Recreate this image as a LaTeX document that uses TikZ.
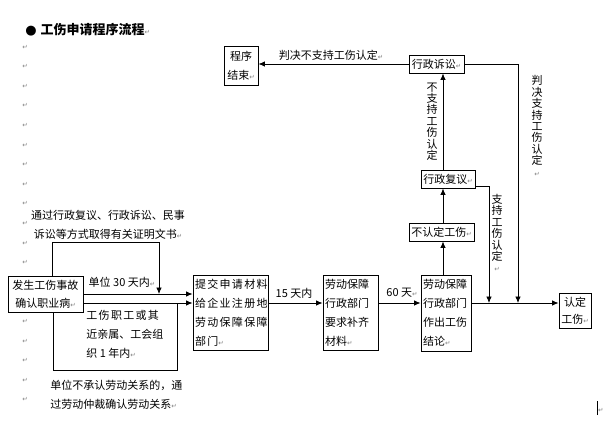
\documentclass[tikz,border=0pt]{standalone}
\usepackage{fontspec}
\newfontfamily\cjk{Noto Sans CJK SC}
\newfontfamily\cjkwide[LetterSpace=12]{Noto Sans CJK SC}
\newfontfamily\markfont{DejaVu Sans}
\usetikzlibrary{arrows.meta,calc}
\tikzset{
    auto,
    box/.style = {
        draw,
        shape=rectangle,
        inner sep=2pt,
        align=center,
        line width=0.9pt
    },
    tallbox/.style = {
        box,
        align=left,
        minimum height=75pt
    },
    vtext/.style = {
        align=center,
        inner sep=0pt,
        font=\cjk\fontsize{11}{11.4}\selectfont
    },
    plain/.style = {
        inner sep=1pt
    },
    >={Latex[length=6.5pt,width=5.5pt]},
}
\newcommand{\pmk}{{\markfont\fontsize{6.5}{6.5}\selectfont\textcolor{gray}{↵}}}

\begin{document}
\begin{tikzpicture}[x=1pt, y=-1pt, line width=0.8pt, font=\cjk\fontsize{11}{19}\selectfont]
            \useasboundingbox (0,0) rectangle (606,437);

            % title and the paragraph marks down the left side
            \node[plain, anchor=west] (title) at (24,30) {{\markfont\fontsize{13}{13}\selectfont ●}\hspace{4pt}{\bfseries\fontsize{13}{13}\selectfont 工伤申请程序流程}\pmk};
            \foreach \k in {0,...,11,14,15,16,17,18}
                \node[plain] (ret\k) at (25,{47+19.6*\k}) {\pmk};

            % boxes
            \node[box, minimum width=34pt, minimum height=39pt] (finish) at (241,65.5) {程序\\结束\pmk};
            \node[box, minimum width=55pt, minimum height=18pt] (suit) at (436.5,64) {行政诉讼\pmk};
            \node[box, minimum width=54pt, minimum height=18pt] (review) at (448,179) {行政复议\pmk};
            \node[box, minimum width=65pt, minimum height=18pt] (refuse) at (441.5,232) {不认定工伤\pmk};
            \node[tallbox, text width=46pt, minimum height=76pt] (verdict) at (446,313) {劳动保障\\行政部门\\作出工伤\\结论\pmk};
            \node[box, minimum width=32pt, minimum height=35pt, font=\cjk\fontsize{11}{17}\selectfont] (accept) at (575,310.5) {认定\\工伤\pmk};
            \node[tallbox, text width=71pt, font=\cjkwide\fontsize{11}{19}\selectfont] (submit) at (230.5,312.5) {提交申请材料\\给企业注册地\\劳动保障保障\\部门\pmk};
            \node[tallbox, text width=51pt] (supply) at (350.5,312.5) {劳动保障\\行政部门\\要求补齐\\材料\pmk};
            \node[box, minimum width=75pt, minimum height=36pt, font=\cjk\fontsize{11}{18}\selectfont] (accident) at (45.5,294) {发生工伤事故\\确认职业病\pmk};

            % texts
            \node[plain, align=center] (proof) at (108,224.5) {通过行政复议、行政诉讼、民事\\诉讼等方式取得有关证明文书\pmk};
            \node[plain] (within30) at (122,282) {单位 30 天内\pmk};
            \node[plain, align=left, anchor=west] (family) at (85,334) {{\cjkwide 工伤职工或其}\\近亲属、工会组\\织 1 年内\pmk};
            \node[plain, align=left, anchor=west] (dispute) at (49,394.5) {单位不承认劳动关系的，通\\过劳动仲裁确认劳动关系\pmk};
            \node[plain] (nosupport) at (331,55) {判决不支持工伤认定\pmk};
            \node[plain] (within15) at (294,293) {15 天内};
            \node[plain] (within60) at (402,293) {60 天\pmk};
            \node[vtext] (notsup) at (432,121.5) {不\\支\\持\\工\\伤\\认\\定};
            \node[vtext] (judgesup) at (537,126) {判\\决\\支\\持\\工\\伤\\认\\定\\\pmk};
            \node[vtext] (support) at (497,233) {支\\持\\工\\伤\\认\\定\\\pmk};
            \node[plain] (caret) at (600,408) {\rule[-3pt]{1.5pt}{14pt}\pmk};

            % helper points
            \coordinate (mid) at (0,303);
            \coordinate (upx) at (443,0);
            \coordinate (suitx) at (518,0);
            \coordinate (reviewx) at (489,0);
            \coordinate (ltop) at (52,242);
            \coordinate (rtop) at (159,242);
            \coordinate (lbot) at (53,370);
            \coordinate (rbot) at (177,370);

            % connectors
            \path[draw, ->] (suit.west) -- (suit.west -| finish.east);
            \path[draw, ->] (suit.east) -| (suitx |- mid);
            \path[draw, ->] (review.-15) -| (reviewx |- mid);
            \path[draw, ->] (upx |- review.north) -- (upx |- suit.south);
            \path[draw, ->] (upx |- refuse.north) -- (upx |- review.south);
            \path[draw, ->] (upx |- verdict.north) -- (upx |- refuse.south);
            \path[draw, ->] (verdict.east |- mid) -- (accept.west |- mid);
            \path[draw, ->] (supply.east |- mid) -- (verdict.west |- mid);
            \path[draw, ->] (submit.east |- mid) -- (supply.west |- mid);
            \path[draw, ->] (accident.east) -- (accident.east -| submit.west);
            \path[draw, ->] (accident.east |- mid) -- (submit.west |- mid);
            \path[draw, ->] (ltop |- accident.north) -- (ltop) -- (rtop) -- (rtop |- accident.east);
            \path[draw] (lbot |- accident.south) -- (lbot) -- (rbot) -- (rbot |- mid);
        \end{tikzpicture}
\end{document}
